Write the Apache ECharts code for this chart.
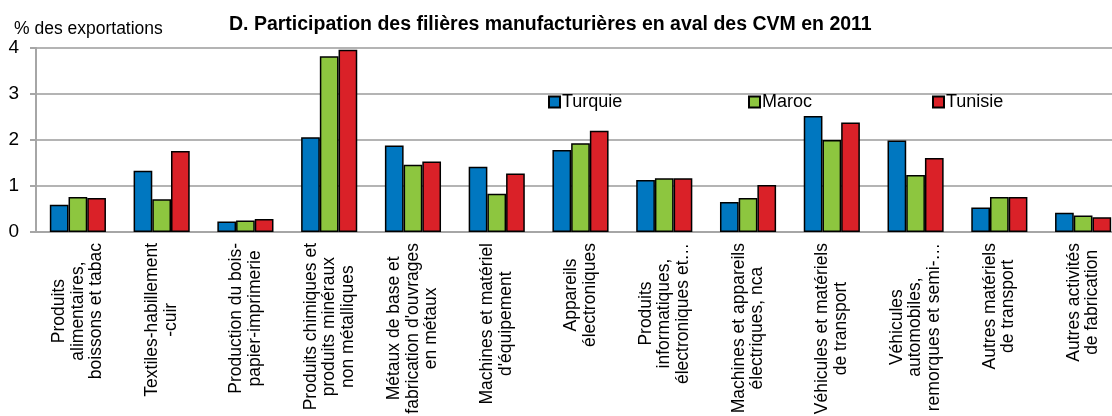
<!DOCTYPE html>
<html>
<head>
<meta charset="utf-8">
<script src="https://cdn.jsdelivr.net/npm/echarts@6/dist/echarts.min.js"></script>
<style>
  html, body { margin: 0; padding: 0; background: #fff; }
  #chart { width: 1112px; height: 416px; }
</style>
</head>
<body>
<div id="chart"></div>
<script>
// Filières manufacturières (libellés sur plusieurs lignes)
const categories = [
  "Produits\nalimentaires,\nboissons et tabac",
  "Textiles-habillement\n-cuir",
  "Production du bois-\npapier-imprimerie",
  "Produits chimiques et\nproduits minéraux\nnon métalliques",
  "Métaux de base et\nfabrication d'ouvrages\nen métaux",
  "Machines et matériel\nd'équipement",
  "Appareils\nélectroniques",
  "Produits\ninformatiques,\nélectroniques et…",
  "Machines et appareils\nélectriques, nca",
  "Véhicules et matériels\nde transport",
  "Véhicules\nautomobiles,\nremorques et semi-…",
  "Autres matériels\nde transport",
  "Autres activités\nde fabrication"
];

// % des exportations
const turquie = [0.59, 1.33, 0.23, 2.06, 1.88, 1.42, 1.78, 1.13, 0.65, 2.52, 1.99, 0.53, 0.42];
const maroc   = [0.76, 0.71, 0.25, 3.82, 1.46, 0.83, 1.93, 1.17, 0.74, 2.00, 1.24, 0.76, 0.36];
const tunisie = [0.74, 1.76, 0.28, 3.96, 1.53, 1.27, 2.20, 1.17, 1.02, 2.38, 1.61, 0.76, 0.32];

const yTicks = [0, 1, 2, 3, 4];

const FONT = "'Liberation Sans', Arial, sans-serif";
const colors = { Turquie: "#0077C0", Maroc: "#8DC63F", Tunisie: "#DA2128" };

const chart = echarts.init(document.getElementById("chart"), null, { renderer: "canvas" });

function barSeries(name, data) {
  return {
    name: name,
    type: "bar",
    data: data,
    barGap: "0%",
    barCategoryGap: "33%",
    itemStyle: { color: colors[name], borderColor: "#000", borderWidth: 1.5 },
    emphasis: { disabled: true }
  };
}

function legendAt(name, x) {
  return {
    data: [name],
    left: x,
    top: 93,
    icon: "rect",
    itemWidth: 11,
    itemHeight: 11,
    itemGap: 0,
    textStyle: { fontFamily: FONT, fontSize: 18, color: "#000", padding: [0, 0, 0, -3] },
    padding: 0
  };
}

chart.setOption({
  animation: false,
  backgroundColor: "#fff",
  textStyle: { fontFamily: FONT },
  title: [
    {
      text: "D. Participation des filières manufacturières en aval des CVM en 2011",
      left: 229,
      top: 15,
      padding: 0,
      textStyle: { fontFamily: FONT, fontSize: 19.5, fontWeight: "bold", color: "#000" }
    },
    {
      text: "% des exportations",
      left: 14,
      top: 20,
      padding: 0,
      textStyle: { fontFamily: FONT, fontSize: 17.5, fontWeight: "normal", color: "#000" }
    }
  ],
  legend: [
    legendAt("Turquie", 548),
    legendAt("Maroc", 748),
    legendAt("Tunisie", 932)
  ],
  grid: { left: 36, top: 48, width: 1089, height: 184, containLabel: false, outerBoundsMode: "none" },
  xAxis: {
    type: "category",
    data: categories,
    axisLine: { show: true, lineStyle: { color: "#a6a6a6", width: 2 } },
    axisTick: { show: false },
    axisLabel: {
      interval: 0,
      rotate: 90,
      margin: 11,
      fontFamily: FONT,
      fontSize: 17.5,
      lineHeight: 18.5,
      color: "#000",
      formatter: function (v) {
        return v.split("\n").map(function (l) { return "{c|" + l + "}"; }).join("\n");
      },
      rich: { c: { align: "center", fontFamily: FONT, fontSize: 17.5, lineHeight: 18.5, color: "#000" } }
    }
  },
  yAxis: {
    type: "value",
    min: yTicks[0],
    max: yTicks[yTicks.length - 1],
    interval: 1,
    axisLine: { show: true, lineStyle: { color: "#a6a6a6", width: 2 } },
    axisTick: { show: true, length: 6, lineStyle: { color: "#a6a6a6", width: 2 } },
    splitLine: { show: true, lineStyle: { color: "#b4b4b4", width: 2 } },
    axisLabel: { fontFamily: FONT, fontSize: 19, color: "#000", margin: 17 }
  },
  series: [
    barSeries("Turquie", turquie),
    barSeries("Maroc", maroc),
    barSeries("Tunisie", tunisie)
  ]
});
</script>
</body>
</html>
